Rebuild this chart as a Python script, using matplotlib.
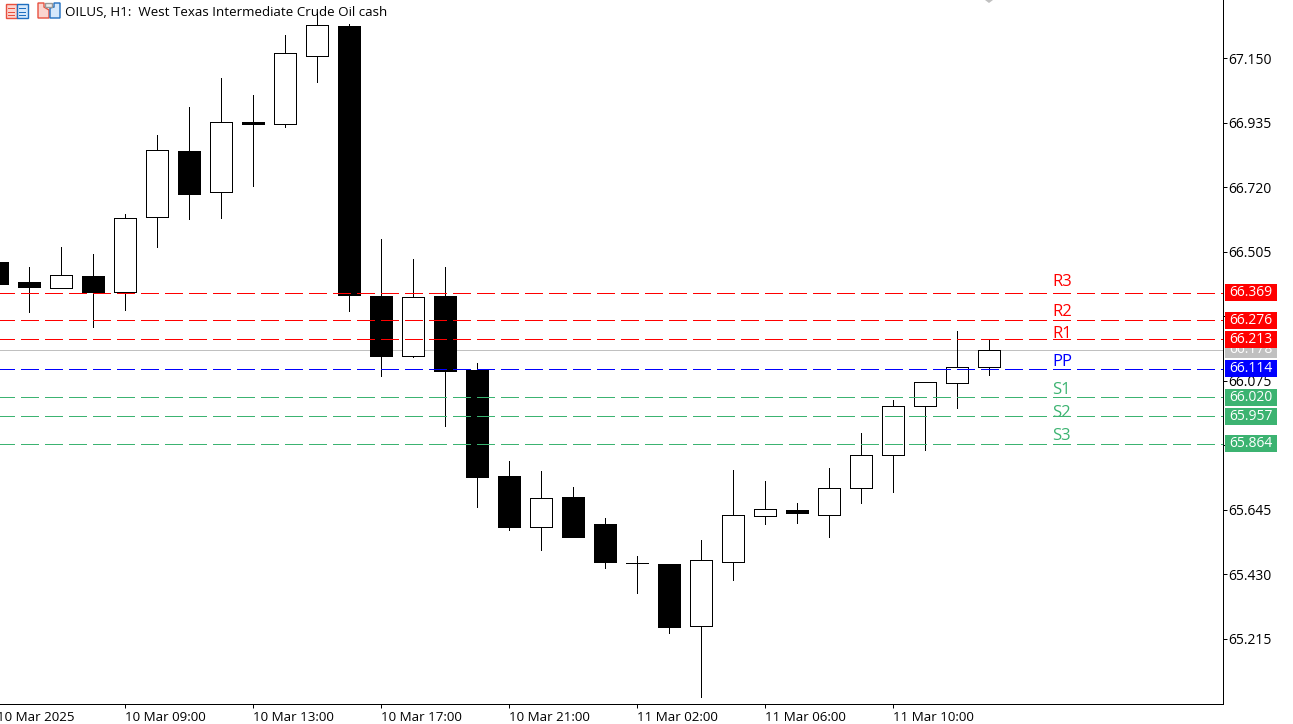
import matplotlib
matplotlib.use('Agg')
import matplotlib.pyplot as plt
from matplotlib.patches import Rectangle, Polygon
from matplotlib.transforms import Affine2D

plt.rcParams['font.family'] = ['Open Sans', 'DejaVu Sans']

# OHLC, one value per hourly bar
opens = [66.471, 66.404, 66.384, 66.424, 66.371, 66.621, 66.841, 66.704, 66.937, 66.931, 67.157, 67.257,
         66.357, 66.157, 66.357, 66.111, 65.757, 65.587, 65.687, 65.597, 65.467, 65.464, 65.257, 65.471,
         65.624, 65.644, 65.627, 65.717, 65.827, 65.991, 66.067, 66.121]
highs = [66.471, 66.454, 66.521, 66.497, 66.631, 66.894, 66.987, 67.084, 67.027, 67.227, 67.304, 67.264,
         66.547, 66.481, 66.454, 66.134, 65.807, 65.774, 65.721, 65.617, 65.491, 65.464, 65.544, 65.777,
         65.741, 65.667, 65.784, 65.901, 66.011, 66.071, 66.241, 66.211]
lows = [66.397, 66.304, 66.384, 66.254, 66.311, 66.521, 66.614, 66.617, 66.724, 66.921, 67.071, 66.307,
        66.091, 66.154, 65.924, 65.654, 65.577, 65.511, 65.554, 65.451, 65.367, 65.234, 65.021, 65.411,
        65.597, 65.601, 65.554, 65.667, 65.704, 65.844, 65.984, 66.094]
closes = [66.397, 66.387, 66.427, 66.371, 66.617, 66.844, 66.697, 66.937, 66.931, 67.167, 67.261, 66.361,
          66.157, 66.354, 66.107, 65.754, 65.587, 65.684, 65.554, 65.471, 65.467, 65.254, 65.477, 65.627,
          65.647, 65.634, 65.717, 65.827, 65.991, 66.071, 66.121, 66.177]

level_names = ['R3', 'R2', 'R1', 'PP', 'S1', 'S2', 'S3']
level_values = [66.369, 66.276, 66.213, 66.114, 66.020, 65.957, 65.864]
level_colors = ['#ff0000', '#ff0000', '#ff0000', '#0000ff', '#3cb371', '#3cb371', '#3cb371']
last_price = 66.178

price_ticks = [67.150, 66.935, 66.720, 66.505, 66.290, 66.075, 65.860, 65.645, 65.430, 65.215]
price_labels = ['67.150', '66.935', '66.720', '66.505', '', '66.075', '', '65.645', '65.430', '65.215']
time_ticks = [4, 8, 12, 16, 20, 24, 28]
time_labels = ['10 Mar 09:00', '10 Mar 13:00', '10 Mar 17:00', '10 Mar 21:00',
               '11 Mar 02:00', '11 Mar 06:00', '11 Mar 10:00']
first_label = '10 Mar 2025'
title = 'OILUS, H1:  West Texas Intermediate Crude Oil cash'

W, H = 1293, 724
px = 0.72  # one pixel in points at dpi 100
fs = 10
fs_small = 9.65

# how far each pivot name sits above its line, in pixels
label_gaps = [10, 8.5, 5, 6.5, 7.5, 3, 7.5]

fig = plt.figure(figsize=(W / 100, H / 100), dpi=100, facecolor='white')
ax = fig.add_axes([0, 1 - 703.5 / H, 1222.5 / W, 703.5 / H])
ax.set_xlim(3 / 32, 1225.5 / 32)
ax.set_ylim(67.344 - 703.5 / 300, 67.344)

for s in ['left', 'top']:
    ax.spines[s].set_visible(False)
for s in ['right', 'bottom']:
    ax.spines[s].set_linewidth(px)

# candles
for i in range(len(opens)):
    ax.vlines(i, lows[i], highs[i], color='black', lw=px, antialiased=False, zorder=2)
    up = closes[i] >= opens[i]
    ax.bar(i, abs(closes[i] - opens[i]), bottom=min(opens[i], closes[i]), width=22 / 32,
           facecolor='white' if up else 'black', edgecolor='black', lw=px, antialiased=False, zorder=3)

# pivot levels
ax.axhline(last_price, color='#c0c0c0', lw=px, antialiased=False, zorder=1)
for name, val, col, gap in zip(level_names, level_values, level_colors, label_gaps):
    ax.axhline(val, color=col, lw=px, linestyle=(3, (18, 6)), antialiased=False, zorder=4)
    ax.annotate(name, (1052, val), xycoords=('figure pixels', 'data'), xytext=(0, gap * px),
                textcoords='offset points', color=col, fontsize=12, va='center', ha='left', zorder=5)

ax.yaxis.tick_right()
ax.set_yticks(price_ticks)
ax.set_yticklabels(price_labels, fontsize=fs)
ax.tick_params(axis='y', length=3, width=px, pad=1)
ax.set_xticks(time_ticks)
ax.set_xticklabels(time_labels, fontsize=fs_small, ha='left')
ax.tick_params(axis='x', length=3, width=px, pad=2.5)

ax.annotate(first_label, (0, 0), xycoords=('data', 'axes fraction'), xytext=(0, -5.5),
            textcoords='offset points', fontsize=fs_small, ha='left', va='top', annotation_clip=False)


# price boxes on the axis, gray one goes under the coloured ones
def price_box(val, col, z):
    y = H - (292.5 + (66.369 - val) * 300)
    fig.add_artist(Rectangle((1225, y - 8.5), 52, 17, transform=None, fc=col, ec='none', zorder=z))
    fig.text(1251 / W, y / H, '%.3f' % val, color='white', fontsize=fs, ha='center', va='center', zorder=z + 0.5)


price_box(last_price, '#c0c0c0', 10)
for val, col in zip(level_values, level_colors):
    price_box(val, col, 11)

# toolbar icons and title in the top left corner
tr = Affine2D().scale(1, -1).translate(0, H)
fig.add_artist(Rectangle((6, 4), 11, 14, transform=tr, fc='#fbd5d0', ec='#e8503f', lw=1))
fig.add_artist(Rectangle((17, 4), 11, 14, transform=tr, fc='#d5e8fb', ec='#1f6fc0', lw=1))
for yy in (8, 11.5, 15):
    fig.add_artist(Rectangle((8, yy), 7, 1.3, transform=tr, fc='#e8503f', ec='none'))
    fig.add_artist(Rectangle((19, yy), 7, 1.3, transform=tr, fc='#1f6fc0', ec='none'))
fig.add_artist(Polygon([(38, 3), (44, 3), (44, 7), (49, 10), (49, 18), (38, 18)], transform=tr,
                       fc='#fbd5d0', ec='#e8503f', lw=1))
fig.add_artist(Polygon([(54, 3), (60, 3), (60, 18), (50, 18), (50, 8), (54, 7)], transform=tr,
                       fc='#d5e8fb', ec='#1f6fc0', lw=1))
fig.add_artist(Rectangle((45, 3), 7, 4, transform=tr, fc='#eeeeee', ec='#999999', lw=1))
fig.add_artist(Polygon([(985, 0), (993, 0), (989, 3)], transform=tr, fc='#c0c0c0', ec='none'))
fig.text(65 / W, 1 - 13 / H, title, fontsize=fs_small, ha='left', va='center', color='black')

fig.savefig('out.png', dpi=100)
